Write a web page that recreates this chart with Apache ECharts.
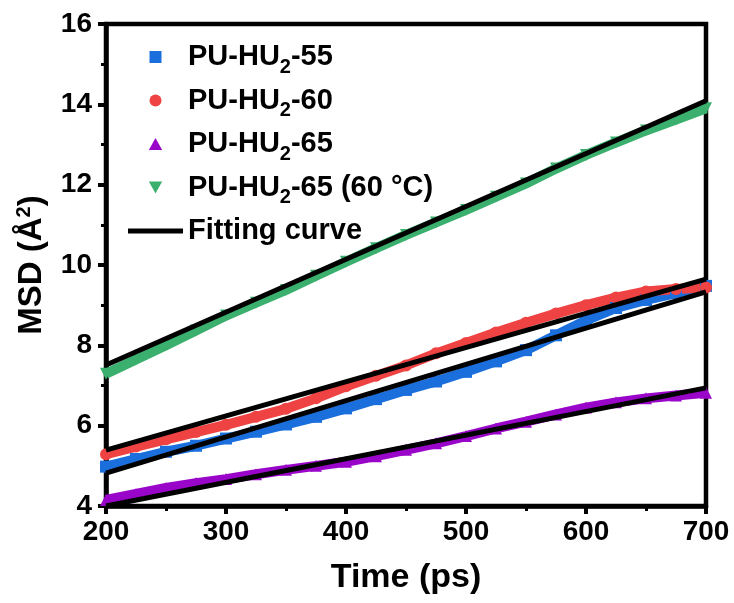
<!DOCTYPE html>
<html>
<head>
<meta charset="utf-8">
<script src="https://cdn.jsdelivr.net/npm/echarts@6/dist/echarts.min.js"></script>
<style>
  html, body { margin: 0; padding: 0; background: #fff; }
  #chart { width: 734px; height: 603px; }
</style>
</head>
<body>
<div id="chart"></div>
<script>
// MSD vs time
var times = [200, 225, 250, 275, 300, 325, 350, 375, 400, 425, 450,
             475, 500, 525, 550, 575, 600, 625, 650, 675, 700];
var msd55 = [4.98, 5.17, 5.35, 5.50, 5.68, 5.85, 6.03, 6.22, 6.43, 6.66, 6.89,
             7.10, 7.34, 7.60, 7.88, 8.25, 8.62, 8.93, 9.13, 9.30, 9.48];
var msd60 = [5.29, 5.48, 5.66, 5.84, 6.02, 6.22, 6.42, 6.68, 6.98, 7.24, 7.50,
             7.80, 8.06, 8.32, 8.56, 8.79, 9.00, 9.19, 9.34, 9.40, 9.44];
var msd65 = [4.15, 4.30, 4.45, 4.57, 4.67, 4.79, 4.90, 5.00, 5.10, 5.24, 5.40,
             5.56, 5.74, 5.93, 6.10, 6.28, 6.45, 6.58, 6.68, 6.75, 6.82];
var msd65at60 = [7.29, 7.65, 8.00, 8.37, 8.74, 9.06, 9.38, 9.73, 10.08, 10.42, 10.75,
                 11.06, 11.37, 11.70, 12.03, 12.40, 12.74, 13.05, 13.35, 13.62, 13.90];

// linear fits, end points
var fitTimes = [200, 700];
var fit55 = [4.82, 9.33];
var fit60 = [5.39, 9.65];
var fit65 = [4.00, 6.94];
var fit65at60 = [7.51, 14.09];

var names = ["PU-HU2-55", "PU-HU2-60", "PU-HU2-65", "PU-HU2-65 (60 \u00B0C)"];
var fitName = "Fitting curve";

var FONT = "'Liberation Sans', Arial, sans-serif";
var squareIcon = "path://M0,0H10V10H0Z";
var upTri = "path://M5,0L10,9L0,9Z";
var downTri = "path://M0,0L10,0L5,9Z";

function zip(xs, ys) {
    var out = [];
    for (var i = 0; i < xs.length; i++) {
        out.push([xs[i], ys[i]]);
    }
    return out;
}

function dataSeries(name, values, color, symbol) {
    return {
        name: name,
        type: "line",
        data: zip(times, values),
        symbol: symbol,
        symbolSize: 12,
        showSymbol: true,
        itemStyle: { color: color },
        lineStyle: { color: color, width: 10 },
        z: 2,
        animation: false
    };
}

function fitSeries(values) {
    return {
        name: fitName,
        type: "line",
        data: zip(fitTimes, values),
        symbol: "none",
        itemStyle: { color: "#000" },
        lineStyle: { color: "#000", width: 5 },
        z: 3,
        animation: false
    };
}

var chart = echarts.init(document.getElementById("chart"));

var option = {
    backgroundColor: "#fff",
    textStyle: { fontFamily: FONT, fontWeight: "bold", color: "#000" },
    grid: {
        left: 106, right: 28, top: 24, bottom: 97,
        show: true, borderWidth: 4.5, borderColor: "#000"
    },
    legend: {
        orient: "vertical",
        left: 123,
        top: 32,
        itemWidth: 55,
        itemHeight: 12,
        itemGap: 3.5,
        itemTextGap: 7,
        data: [
            { name: names[0], icon: squareIcon },
            { name: names[1], icon: "circle" },
            { name: names[2], icon: upTri },
            { name: names[3], icon: downTri },
            { name: fitName, icon: "path://M0,0H55V5H0Z" }
        ],
        formatter: function (name) {
            if (name.indexOf("PU-HU2") === 0) {
                return "{t|PU-HU}{s|2}{t|" + name.slice(6) + "}";
            }
            // no subscript here, pad the row so spacing matches
            return "{t|" + name + "}{p| }";
        },
        textStyle: {
            rich: {
                t: { fontFamily: FONT, fontWeight: "bold", fontSize: 29, lineHeight: 31, color: "#000" },
                s: { fontFamily: FONT, fontWeight: "bold", fontSize: 20, lineHeight: 10, padding: [20, 0, 0, 0], verticalAlign: "middle", color: "#000" },
                p: { fontFamily: FONT, fontWeight: "bold", fontSize: 20, lineHeight: 10, padding: [20, 0, 0, 0], verticalAlign: "middle", color: "#000" }
            }
        }
    },
    xAxis: {
        type: "value",
        min: 200, max: 700, interval: 100,
        name: "Time (ps)",
        nameLocation: "middle",
        nameGap: 55,
        nameTextStyle: { fontFamily: FONT, fontWeight: "bold", fontSize: 34, color: "#000" },
        axisLine: { lineStyle: { color: "#000", width: 4.5 } },
        axisTick: { length: 8, lineStyle: { width: 4, color: "#000" } },
        minorTick: { show: true, splitNumber: 2, length: 5, lineStyle: { width: 3, color: "#000" } },
        axisLabel: { margin: 12, fontFamily: FONT, fontWeight: "bold", fontSize: 28, color: "#000" },
        splitLine: { show: false }
    },
    yAxis: {
        type: "value",
        min: 4, max: 16, interval: 2,
        name: "{a|MSD (\u00C5}{b|2}{a|)}",
        nameLocation: "middle",
        nameGap: 56,
        nameRotate: 90,
        nameTextStyle: {
            rich: {
                a: { fontFamily: FONT, fontWeight: "bold", fontSize: 33, lineHeight: 36, color: "#000" },
                b: { fontFamily: FONT, fontWeight: "bold", fontSize: 20, lineHeight: 20, verticalAlign: "top", color: "#000" }
            }
        },
        axisLine: { lineStyle: { color: "#000", width: 4.5 } },
        axisTick: { length: 8, lineStyle: { width: 4, color: "#000" } },
        minorTick: { show: true, splitNumber: 2, length: 5, lineStyle: { width: 3, color: "#000" } },
        axisLabel: { margin: 14, fontFamily: FONT, fontWeight: "bold", fontSize: 28, color: "#000" },
        splitLine: { show: false }
    },
    series: [
        dataSeries(names[0], msd55, "#1a6fdc", "rect"),
        dataSeries(names[1], msd60, "#ef4343", "circle"),
        dataSeries(names[2], msd65, "#9a06c9", "triangle"),
        dataSeries(names[3], msd65at60, "#3bb06e", downTri),
        fitSeries(fit55),
        fitSeries(fit60),
        fitSeries(fit65),
        fitSeries(fit65at60)
    ]
};

chart.setOption(option);
</script>
</body>
</html>
